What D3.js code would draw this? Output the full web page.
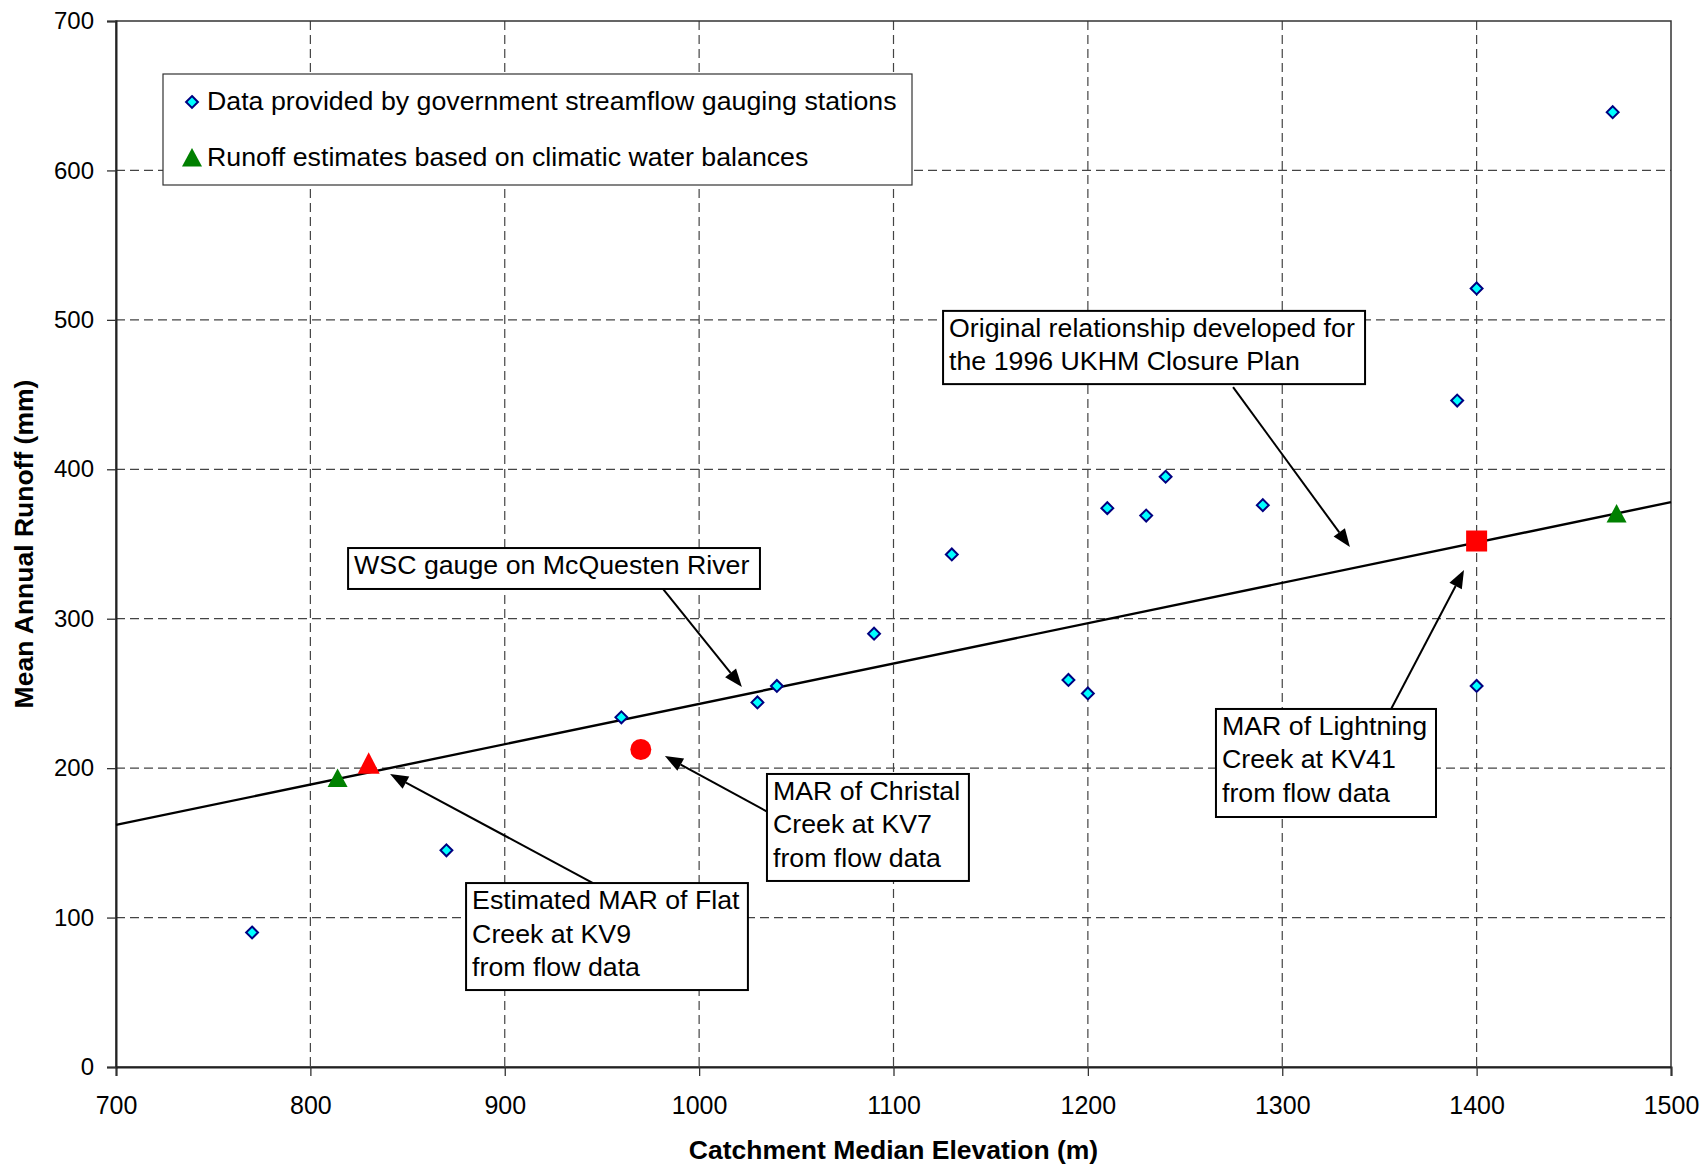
<!DOCTYPE html>
<html>
<head>
<meta charset="utf-8">
<script src="https://cdn.jsdelivr.net/npm/d3@7"></script>
<style>
  html, body { margin: 0; padding: 0; background: #fff; }
  svg { display: block; font-family: "Liberation Sans", Arial, sans-serif; }
</style>
</head>
<body>
<svg id="chart" width="1705" height="1167"></svg>
<script>
// ---------- data ----------
const xTicks = [700, 800, 900, 1000, 1100, 1200, 1300, 1400, 1500];
const yTicks = [0, 100, 200, 300, 400, 500, 600, 700];

// government streamflow gauging stations
const gaugeElev = [770, 870, 960, 1030, 1040, 1090, 1130, 1190, 1200, 1210, 1230, 1240, 1290, 1390, 1400, 1400, 1470];
const gaugeRunoff = [90, 145, 234, 244, 255, 290, 343, 259, 250, 374, 369, 395, 376, 446, 521, 255, 639];

// climatic water balance estimates
const balanceElev = [814, 1472];
const balanceRunoff = [193, 370];

// highlighted sites
const flatCreek = { x: 830, y: 203 };      // red triangle
const christalCreek = { x: 970, y: 212.5 }; // red circle
const lightningCreek = { x: 1400, y: 352 }; // red square

// original relationship (line)
const relElev = [700, 1500];
const relRunoff = [162, 378];

const legendLabels = [
  "Data provided by government streamflow gauging stations",
  "Runoff estimates based on climatic water balances"
];

// annotations (data coordinates): box [x0, yTop, x1, yBottom], arrow from -> to
const annotations = [
  { lines: ["Original relationship developed for", "the 1996 UKHM Closure Plan"],
    box: [1125.5, 506, 1342.6, 457], from: [1274.7, 455], to: [1334.8, 348] },
  { lines: ["WSC gauge on McQuesten River"],
    box: [819.4, 347.3, 1031.3, 319.9], from: [981.4, 319.9], to: [1022, 254.3] },
  { lines: ["Estimated MAR of Flat", "Creek at KV9", "from flow data"],
    box: [880.1, 123.1, 1025.1, 51.5], from: [945.4, 123.1], to: [841, 196] },
  { lines: ["MAR of Christal", "Creek at KV7", "from flow data"],
    box: [1034.9, 196.1, 1138.8, 124.5], from: [1035.4, 170.6], to: [982.4, 208.1] },
  { lines: ["MAR of Lightning", "Creek at KV41", "from flow data"],
    box: [1265.9, 239.6, 1379.1, 167.3], from: [1356, 239.6], to: [1393.5, 332.6] }
];

// ---------- layout ----------
const L = 116, R = 1671, T = 21, B = 1067;
const x = d3.scaleLinear().domain([700, 1500]).range([L, R]);
const y = d3.scaleLinear().domain([0, 700]).range([B, T]);
const SX = 1.07; // horizontal stretch of label text

const svg = d3.select("#chart");

// grid
const grid = svg.append("g").attr("stroke", "#444").attr("stroke-width", 1.2).attr("stroke-dasharray", "9,5");
grid.selectAll("line.v").data(xTicks.filter(d => d > 700 && d < 1500)).join("line")
  .attr("x1", d => x(d)).attr("x2", d => x(d)).attr("y1", T).attr("y2", B);
grid.selectAll("line.h").data(yTicks.filter(d => d > 0 && d < 700)).join("line")
  .attr("y1", d => y(d)).attr("y2", d => y(d)).attr("x1", L).attr("x2", R);

// frame
svg.append("rect").attr("x", L).attr("y", T).attr("width", R - L).attr("height", B - T)
  .attr("fill", "none").attr("stroke", "#333").attr("stroke-width", 1.5);

// axes
const xAxis = svg.append("g").attr("transform", `translate(0,${B})`)
  .call(d3.axisBottom(x).tickValues(xTicks).tickSize(9).tickPadding(20).tickFormat(d3.format("d")));
const yAxis = svg.append("g").attr("transform", `translate(${L},0)`)
  .call(d3.axisLeft(y).tickValues(yTicks).tickSize(9).tickPadding(13).tickFormat(d3.format("d")));
[xAxis, yAxis].forEach(a => {
  a.select(".domain").attr("stroke", "#222").attr("stroke-width", 2);
  a.selectAll(".tick line").attr("stroke", "#333").attr("stroke-width", 1.3);
  a.selectAll(".tick text").attr("fill", "#000")
    .attr("font-family", "'Liberation Sans', Arial, sans-serif");
});
xAxis.selectAll(".tick text").attr("font-size", 25).attr("dy", "0.71em");
yAxis.selectAll(".tick text").attr("font-size", 24);

// axis titles
svg.append("text").attr("x", (L + R) / 2).attr("y", 1159).attr("text-anchor", "middle")
  .attr("font-size", 26.5).attr("font-weight", "bold").text("Catchment Median Elevation (m)");
svg.append("text").attr("transform", `translate(33,${(T + B) / 2}) rotate(-90)`).attr("text-anchor", "middle")
  .attr("font-size", 26.5).attr("font-weight", "bold").text("Mean Annual Runoff (mm)");

// relationship line
const line = d3.line().x(d => x(d[0])).y(d => y(d[1]));
svg.append("path").datum(relElev.map((e, i) => [e, relRunoff[i]]))
  .attr("d", line).attr("fill", "none").attr("stroke", "#000").attr("stroke-width", 2.4);

// symbols
const diamond = d3.symbol().type(d3.symbolDiamond2).size(90)();
const triGreen = "M0,-10 L10,8.5 L-10,8.5 Z";
const triRed = "M0,-11.5 L11,10 L-11,10 Z";

svg.append("g").selectAll("path").data(gaugeElev.map((e, i) => [e, gaugeRunoff[i]])).join("path")
  .attr("d", diamond).attr("transform", d => `translate(${x(d[0])},${y(d[1])})`)
  .attr("fill", "#00ffff").attr("stroke", "#000080").attr("stroke-width", 2);

svg.append("g").selectAll("path").data(balanceElev.map((e, i) => [e, balanceRunoff[i]])).join("path")
  .attr("d", triGreen).attr("transform", d => `translate(${x(d[0])},${y(d[1])})`)
  .attr("fill", "#008000");

svg.append("path").attr("d", triRed).attr("transform", `translate(${x(flatCreek.x)},${y(flatCreek.y)})`).attr("fill", "#ff0000");
svg.append("circle").attr("cx", x(christalCreek.x)).attr("cy", y(christalCreek.y)).attr("r", 10.5).attr("fill", "#ff0000");
svg.append("rect").attr("x", x(lightningCreek.x) - 10.5).attr("y", y(lightningCreek.y) - 10.5)
  .attr("width", 21).attr("height", 21).attr("fill", "#ff0000");

// annotations
const ann = svg.append("g");
annotations.forEach(a => {
  const bx0 = x(a.box[0]), by0 = y(a.box[1]), bx1 = x(a.box[2]), by1 = y(a.box[3]);
  const fx = x(a.from[0]), fy = y(a.from[1]), tx = x(a.to[0]), ty = y(a.to[1]);
  const ang = Math.atan2(ty - fy, tx - fx);
  const hl = 18, hw = 7;
  const bxp = tx - hl * Math.cos(ang), byp = ty - hl * Math.sin(ang);
  ann.append("line").attr("x1", fx).attr("y1", fy).attr("x2", bxp).attr("y2", byp)
    .attr("stroke", "#000").attr("stroke-width", 2);
  const p1 = [bxp + hw * Math.sin(ang), byp - hw * Math.cos(ang)];
  const p2 = [bxp - hw * Math.sin(ang), byp + hw * Math.cos(ang)];
  ann.append("path").attr("d", `M${tx},${ty}L${p1[0]},${p1[1]}L${p2[0]},${p2[1]}Z`).attr("fill", "#000");
  ann.append("rect").attr("x", bx0).attr("y", by0).attr("width", bx1 - bx0).attr("height", by1 - by0)
    .attr("fill", "#fff").attr("stroke", "#000").attr("stroke-width", 2);
  a.lines.forEach((t, i) => {
    ann.append("text").attr("transform", `translate(${bx0 + 6},${by0 + 26 + i * 33.5}) scale(${SX},1)`)
      .attr("font-size", 25).attr("fill", "#000").text(t);
  });
});

// legend
const lg = svg.append("g");
lg.append("rect").attr("x", 163).attr("y", 74).attr("width", 749).attr("height", 111)
  .attr("fill", "#fff").attr("stroke", "#333").attr("stroke-width", 1.2);
lg.append("path").attr("d", diamond).attr("transform", "translate(192,102)")
  .attr("fill", "#00ffff").attr("stroke", "#000080").attr("stroke-width", 2);
lg.append("path").attr("d", triGreen).attr("transform", "translate(192,158)").attr("fill", "#008000");
legendLabels.forEach((t, i) => {
  lg.append("text").attr("transform", `translate(207,${110 + i * 56}) scale(${SX},1)`)
    .attr("font-size", 25).attr("fill", "#000").text(t);
});
</script>
</body>
</html>
